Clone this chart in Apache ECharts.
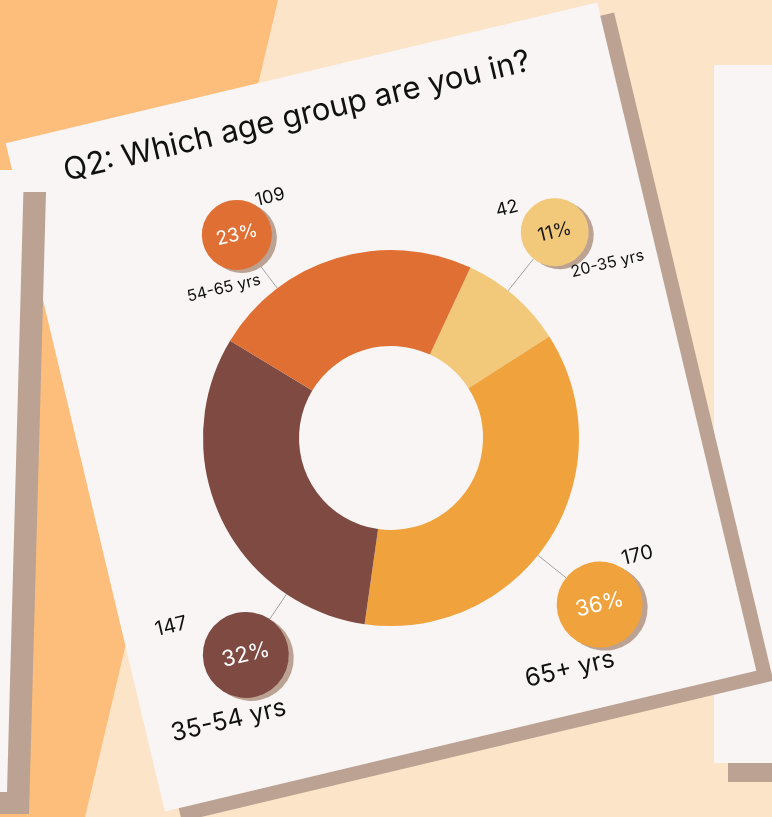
<!DOCTYPE html>
<html><head><meta charset="utf-8">
<script src="https://cdn.jsdelivr.net/npm/echarts@6/dist/echarts.min.js"></script>
<style>html,body{margin:0;padding:0;background:#fce4c9}#c{width:772px;height:817px}</style>
</head><body><div id="c"></div>
<script>
// ---- data ----
const titleText = 'Q2: Which age group are you in?';
const categories = ['20-35 yrs', '65+ yrs', '35-54 yrs', '54-65 yrs'];
const counts = [42, 170, 147, 109];
const pctLabels = ['11%', '36%', '32%', '23%'];

// ---- style / layout ----
const FONT = 'Inter, "Noto Sans", sans-serif';
const sliceColors = ['#f2c97b', '#f0a23c', '#7e4a42', '#e06f34'];
const pctColors = ['#1a1a1a', '#ffffff', '#ffffff', '#ffffff'];
const CX = 391, CY = 438, R_IN = 92, R_OUT = 188;
const TILT = 13.4;
const bubbleAngle = [38.5, 128.6, 213.8, 322.8];
const bubbleDist = [263, 267, 261, 255];
const bubbleR = [34, 43, 43, 35];
const pctSize = [19, 22, 22, 19];
const countSize = [18, 20, 20, 18];
const catSize = [16, 25, 25, 16];
const countOff = [[-41, -34], [48, -39], [-66, -45], [41, -29]];
const catOff = [[44, 43], [-44, 56], [-32, 60], [-25, 49]];
const SHADOW = '#bba292', CARD = '#f9f5f4';

const rad = d => d * Math.PI / 180;
function bubbleCenter(i) {
  const a = rad(bubbleAngle[i]);
  return [CX + bubbleDist[i] * Math.sin(a), CY - bubbleDist[i] * Math.cos(a)];
}
function loc(u, v) {
  const t = rad(TILT);
  return [u * Math.cos(t) + v * Math.sin(t), -u * Math.sin(t) + v * Math.cos(t)];
}

const pieData = categories.map((c, i) => ({ name: c, value: counts[i], itemStyle: { color: sliceColors[i] } }));

const richP = {};
pctLabels.forEach((p, i) => {
  richP['p' + i] = {
    width: bubbleR[i] * 2, height: bubbleR[i] * 2, lineHeight: bubbleR[i] * 2,
    borderRadius: bubbleR[i], backgroundColor: sliceColors[i], align: 'center',
    color: pctColors[i], fontSize: pctSize[i], fontFamily: FONT,
    shadowColor: SHADOW, shadowBlur: 0, shadowOffsetX: 5, shadowOffsetY: 3
  };
});
const richC = {}, richK = {};
categories.forEach((c, i) => {
  richC['c' + i] = { fontSize: countSize[i], color: '#111', fontFamily: FONT };
  richK['k' + i] = { fontSize: catSize[i], color: '#111', fontFamily: FONT };
});

function offsetLayout(offs) {
  return function (p) {
    const i = p.dataIndex, b = bubbleCenter(i), o = loc(offs[i][0], offs[i][1]);
    return { x: b[0] + o[0], y: b[1] + o[1], align: 'center', verticalAlign: 'middle', rotate: TILT };
  };
}

const basePie = {
  type: 'pie', center: [CX, CY], radius: [R_IN, R_OUT], startAngle: 90 - 25,
  clockwise: true, avoidLabelOverlap: false, animation: false
};

const option = {
  backgroundColor: '#fce4c9',
  animation: false,
  graphic: [
    { type: 'polygon', z: 0, z2: 1, shape: { points: [[0, 0], [278, 0], [85, 817], [0, 817]] }, style: { fill: '#fdbd7b' } },
    { type: 'rect', z: 0, z2: 2, shape: { x: 728, y: 84, width: 100, height: 698 }, style: { fill: SHADOW } },
    { type: 'rect', z: 0, z2: 3, shape: { x: 714, y: 65, width: 100, height: 698 }, style: { fill: CARD } },
    { type: 'rect', z: 0, z2: 4, x: 381 + 17, y: 407 + 10, rotation: rad(TILT), shape: { x: -304, y: -343.5, width: 608, height: 687 }, style: { fill: SHADOW } },
    { type: 'rect', z: 0, z2: 5, x: 381, y: 407, rotation: rad(TILT), shape: { x: -304, y: -343.5, width: 608, height: 687 }, style: { fill: CARD } },
    { type: 'polygon', z: 0, z2: 6, shape: { points: [[-20, 192], [46, 192], [29, 814], [-20, 814]] }, style: { fill: SHADOW } },
    { type: 'polygon', z: 0, z2: 7, shape: { points: [[-20, 170], [24, 170], [7, 792], [-20, 792]] }, style: { fill: CARD } },
    { type: 'text', z: 0, z2: 8, x: 64, y: 172, rotation: rad(TILT),
      style: { text: titleText, fontSize: 31, fontFamily: FONT, fill: '#111', align: 'left', verticalAlign: 'middle', textAlign: 'left', textVerticalAlign: 'middle' } }
  ],
  series: [
    Object.assign({}, basePie, {
      data: pieData,
      itemStyle: { borderWidth: 0 },
      emphasis: { disabled: true },
      label: {
        show: true, position: 'outside', rotate: TILT,
        formatter: p => '{p' + p.dataIndex + '|' + pctLabels[p.dataIndex] + '}',
        rich: richP
      },
      labelLine: { show: true, length: 20, length2: 10, lineStyle: { color: '#a3a3a3', width: 1 } },
      labelLayout: function (p) {
        const i = p.dataIndex, b = bubbleCenter(i), a = rad(bubbleAngle[i]);
        const s = [CX + R_OUT * Math.sin(a), CY - R_OUT * Math.cos(a)];
        const dE = bubbleDist[i] - bubbleR[i];
        const e = [CX + dE * Math.sin(a), CY - dE * Math.cos(a)];
        return { x: b[0], y: b[1], align: 'center', verticalAlign: 'middle', rotate: TILT,
          labelLinePoints: [s, [(s[0] + e[0]) / 2, (s[1] + e[1]) / 2], e] };
      }
    }),
    Object.assign({}, basePie, {
      data: pieData.map(d => ({ name: d.name, value: d.value })),
      silent: true,
      itemStyle: { color: 'rgba(0,0,0,0)' },
      emphasis: { disabled: true },
      label: { show: true, position: 'outside', rotate: TILT,
        formatter: p => '{c' + p.dataIndex + '|' + counts[p.dataIndex] + '}', rich: richC },
      labelLine: { show: false },
      labelLayout: offsetLayout(countOff)
    }),
    Object.assign({}, basePie, {
      data: pieData.map(d => ({ name: d.name, value: d.value })),
      silent: true,
      itemStyle: { color: 'rgba(0,0,0,0)' },
      emphasis: { disabled: true },
      label: { show: true, position: 'outside', rotate: TILT,
        formatter: p => '{k' + p.dataIndex + '|' + categories[p.dataIndex] + '}', rich: richK },
      labelLine: { show: false },
      labelLayout: offsetLayout(catOff)
    })
  ]
};
const chart = echarts.init(document.getElementById('c'), null, { renderer: 'canvas' });
chart.setOption(option);
</script></body></html>
